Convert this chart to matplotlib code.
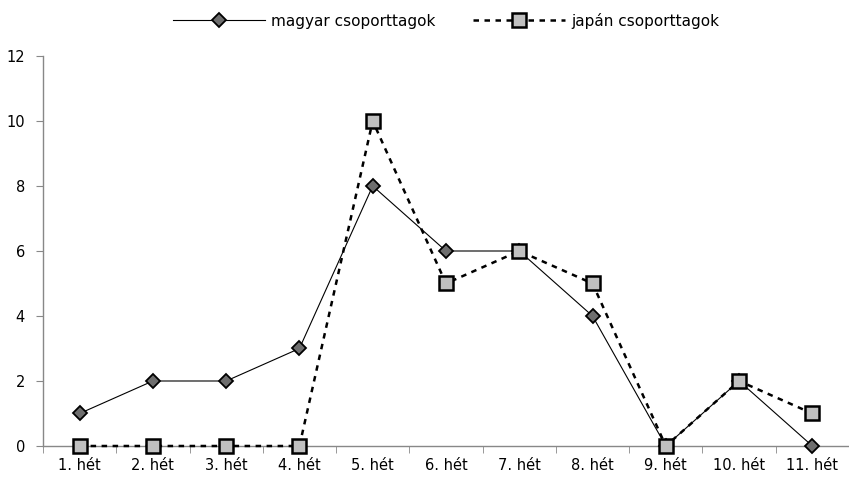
import matplotlib.pyplot as plt
import numpy as np

weeks = ["1. hét", "2. hét", "3. hét", "4. hét", "5. hét", "6. hét",
         "7. hét", "8. hét", "9. hét", "10. hét", "11. hét"]
magyar = [1, 2, 2, 3, 8, 6, 6, 4, 0, 2, 0]
japan = [0, 0, 0, 0, 10, 5, 6, 5, 0, 2, 1]

plt.rcParams["font.family"] = ["DejaVu Sans"]
fig = plt.figure(figsize=(8.49, 4.87), dpi=100)
ax = fig.add_axes([0.0506, 0.0842, 0.9494, 0.8008])

x = np.arange(len(weeks))
ax.plot(x, magyar, color="black", lw=0.8, marker="D", ms=7.5,
        mfc="#6e6e6e", mec="black", mew=1.3, label="magyar csoporttagok", zorder=3)
ax.plot(x, japan, color="black", lw=1.8, ls=(0, (2.2, 2.2)), marker="s", ms=9.5,
        mfc="#c0c0c0", mec="black", mew=1.8, label="japán csoporttagok", zorder=4)

ax.set_xlim(-0.5, len(weeks) - 0.5)
ax.set_ylim(0, 12)
ax.set_yticks(range(0, 13, 2))
ax.set_xticks(x)
ax.set_xticklabels(weeks)
ax.set_xticks(np.arange(-0.5, len(weeks), 1), minor=True)
ax.tick_params(axis="x", which="major", length=0, pad=9, labelsize=10.5)
ax.tick_params(axis="x", which="minor", length=5, color="#888888", direction="out")
ax.tick_params(axis="y", length=5, color="#888888", direction="out", pad=8, labelsize=10.5)

for side in ["top", "right"]:
    ax.spines[side].set_visible(False)
for side in ["left", "bottom"]:
    ax.spines[side].set_color("#888888")
    ax.spines[side].set_linewidth(1)
for line in ax.lines:
    line.set_clip_on(False)

ax.legend(loc="lower center", bbox_to_anchor=(0.5, 1.035), ncol=2, frameon=False,
          fontsize=11, handlelength=6, columnspacing=2.5, handletextpad=0.4)

fig.savefig("out.png", dpi=100)
